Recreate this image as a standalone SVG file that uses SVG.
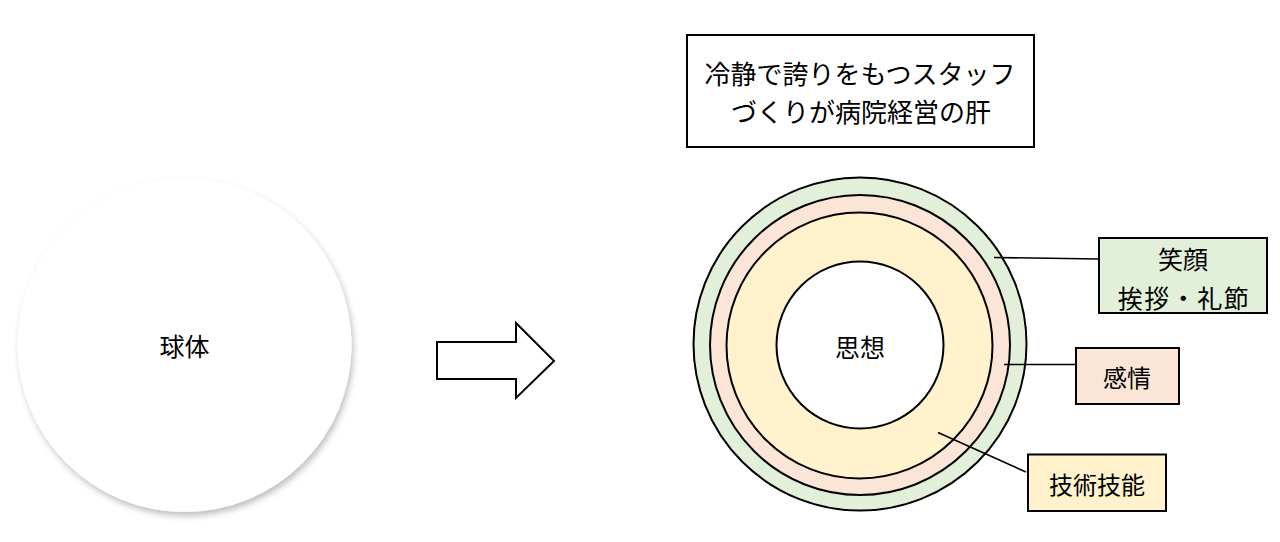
<svg xmlns="http://www.w3.org/2000/svg" width="1280" height="542" viewBox="0 0 1280 542">
<defs>
<style>
text{font-family:"Noto Sans CJK JP","Noto Sans CJK SC",sans-serif;fill:#000;text-anchor:middle;dominant-baseline:central;}
.t{font-size:24px;}
.big{font-size:25px;}
.title{font-size:26px;}
.ring{stroke:#000;stroke-width:2;}
.box{stroke:#000;stroke-width:2;}
.conn{stroke:#000;stroke-width:1.6;fill:none;}
.g{fill:#E2F0D9;}
.p{fill:#FBE5D6;}
.y{fill:#FFF2CC;}
</style>
<filter id="sh" x="-10%" y="-10%" width="125%" height="125%">
<feDropShadow dx="2" dy="4" stdDeviation="3" flood-color="#000" flood-opacity="0.25"/>
</filter>
</defs>
<rect width="1280" height="542" fill="#fff"/>
<g id="sphere">
<circle cx="184.5" cy="345" r="167" fill="#fff" filter="url(#sh)"/>
<text class="big" x="184.5" y="345">球体</text>
</g>
<g id="arrow">
<polygon points="437,342 516,342 516,323 554,361 516,398 516,379 437,379" fill="#fff" stroke="#000" stroke-width="2" stroke-linejoin="miter"/>
</g>
<g id="title">
<rect x="687" y="35" width="347" height="112" fill="#fff" class="box"/>
<text class="title" x="860" y="72">冷静で誇りをもつスタッフ</text>
<text class="title" x="861" y="110">づくりが病院経営の肝</text>
</g>
<g id="rings">
<circle cx="860" cy="344" r="166.5" class="ring g"/>
<circle cx="860" cy="345" r="150" class="ring p"/>
<circle cx="859.5" cy="345.5" r="133" class="ring y"/>
<circle cx="860" cy="345" r="83.5" class="ring" fill="#fff"/>
<text class="big" x="860" y="346">思想</text>
</g>
<g id="connectors">
<line class="conn" x1="994" y1="257.5" x2="1099" y2="259"/>
<line class="conn" x1="1004" y1="364.5" x2="1076" y2="364.5"/>
<line class="conn" x1="938" y1="432.5" x2="1026" y2="472"/>
</g>
<g id="label-egao">
<rect x="1099" y="238" width="168" height="75" class="box g"/>
<text class="big" x="1183" y="258">笑顔</text>
<text class="big" x="1184" y="296.5" letter-spacing="1.5">挨拶・礼節</text>
</g>
<g id="label-kanjo">
<rect x="1076" y="348" width="103" height="56" class="box p"/>
<text class="t" x="1127" y="376.5">感情</text>
</g>
<g id="label-gijutsu">
<rect x="1028" y="454.5" width="138" height="56.5" class="box y"/>
<text class="t" x="1097" y="483">技術技能</text>
</g>
</svg>
